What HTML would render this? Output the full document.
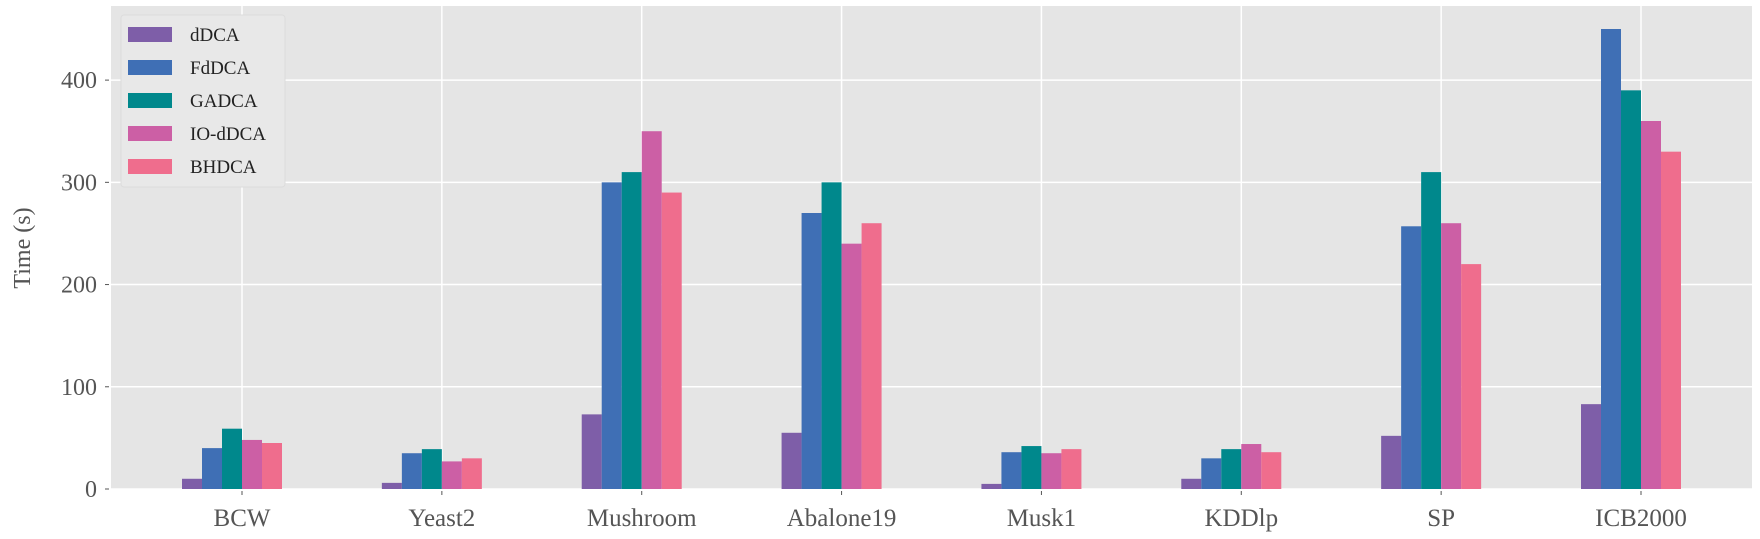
<!DOCTYPE html>
<html><head><meta charset="utf-8"><style>
html,body{margin:0;padding:0;background:#fff;}
svg{display:block;font-family:"Liberation Serif",serif;}
</style></head><body>
<svg id="chart" width="1760" height="539" xmlns="http://www.w3.org/2000/svg">
<rect x="111" y="6" width="1641" height="483" fill="#e5e5e5"/>
<g id="grid"></g><g id="bars"></g><g id="axes"></g>
<text transform="translate(30,248) rotate(-90)" text-anchor="middle" font-size="24" fill="#555">Time (s)</text>
<g id="legend"></g>
</svg>
<script>
const categories = ["BCW","Yeast2","Mushroom","Abalone19","Musk1","KDDlp","SP","ICB2000"];
const seriesNames = ["dDCA","FdDCA","GADCA","IO-dDCA","BHDCA"];
const dDCA = [10,6,73,55,5,10,52,83];
const FdDCA = [40,35,300,270,36,30,257,450];
const GADCA = [59,39,310,300,42,39,310,390];
const IOdDCA = [48,27,350,240,35,44,260,360];
const BHDCA = [45,30,290,260,39,36,220,330];
const yTicks = [0,100,200,300,400];
const series = [dDCA,FdDCA,GADCA,IOdDCA,BHDCA];
const colors = ["#7e5ea8","#3f6fb5","#00888c","#cc5fa5","#ef6d8d"];
const NS="http://www.w3.org/2000/svg";
const L=111,R=1752,T=6,B=489,yMax=472.5;
const y=v=>B-(v/yMax)*(B-T);
const x=i=>242+i*(1641-242)/(categories.length-1);
const bw=20;
function mk(tag,attrs,parent){const e=document.createElementNS(NS,tag);for(const k in attrs)e.setAttribute(k,attrs[k]);parent.appendChild(e);return e;}
const grid=document.getElementById('grid'),bars=document.getElementById('bars'),axes=document.getElementById('axes'),legend=document.getElementById('legend');
yTicks.forEach(t=>{
  const g=mk('line',{x1:L,x2:R,y1:y(t),y2:y(t),stroke:'#fff','stroke-width':1.5},grid);
  
  
  const tk=mk('line',{x1:L-6,x2:L-2,y1:y(t),y2:y(t),stroke:'#555','stroke-width':1},axes);
  
  
  const tx=mk('text',{x:L-14,y:y(t)+8,'text-anchor':'end','font-size':24,fill:'#555'},axes);
  tx.textContent=t;
  
  
});
categories.forEach((c,i)=>{
  const g=mk('line',{x1:x(i),x2:x(i),y1:T,y2:B,stroke:'#fff','stroke-width':1.5},grid);
  
  
  const tk=mk('line',{x1:x(i),x2:x(i),y1:B+2,y2:B+6,stroke:'#555','stroke-width':1},axes);
  
  
  const tx=mk('text',{x:x(i),y:B+37,'text-anchor':'middle','font-size':25,fill:'#555'},axes);
  tx.textContent=c;
  
  
  series.forEach((s,j)=>{
    const r=mk('rect',{x:x(i)-3*bw+j*bw,y:y(s[i]),width:bw,height:B-y(s[i]),fill:colors[j]},bars);
    
    
  });
});
const lb=mk('rect',{x:121,y:15,width:164,height:172,rx:3,fill:'#e8e8e8',stroke:'#dcdcdc'},legend);


seriesNames.forEach((n,j)=>{
  const p=mk('rect',{x:128,y:27+j*33,width:44,height:15,fill:colors[j]},legend);
  
  
  const t=mk('text',{x:190,y:41+j*33,'font-size':19,fill:'#222'},legend);
  t.textContent=n;
  
  
});
</script>
</body></html>
